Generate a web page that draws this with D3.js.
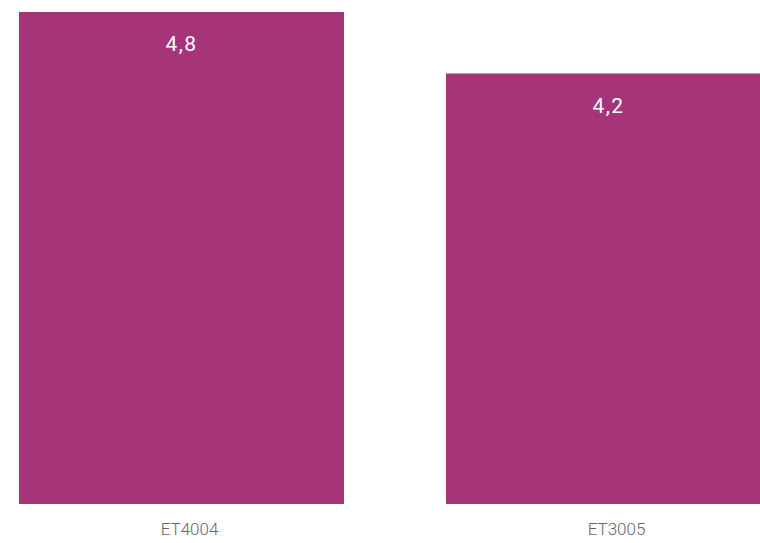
<!DOCTYPE html>
<html>
<head>
<meta charset="utf-8">
<script src="https://cdn.jsdelivr.net/npm/d3@7"></script>
<style>
  html, body { margin: 0; padding: 0; background: #fff; }
  svg { display: block; }
</style>
</head>
<body>
<svg id="chart" width="760" height="543"></svg>
<script>
const categories = ["ET4004", "ET3005"];
const values = [4.8, 4.2];
const valueLabels = ["4,8", "4,2"];

const svg = d3.select("#chart");
const baseY = 504;
const topY = 12;

const x = d3.scaleBand()
  .domain(categories)
  .range([19, 771])
  .paddingInner(102 / 427)
  .paddingOuter(0);

const y = d3.scaleLinear()
  .domain([0, 4.8])
  .range([baseY, topY]);

const color = "#a63479";

svg.selectAll("rect.bar")
  .data(categories)
  .join("rect")
  .attr("class", "bar")
  .attr("x", d => x(d))
  .attr("width", x.bandwidth())
  .attr("y", (d, i) => y(values[i]))
  .attr("height", (d, i) => baseY - y(values[i]))
  .attr("fill", color);

svg.selectAll("text.val")
  .data(categories)
  .join("text")
  .attr("class", "val")
  .attr("x", d => x(d) + x.bandwidth() / 2)
  .attr("y", (d, i) => y(values[i]) + 39)
  .attr("text-anchor", "middle")
  .attr("fill", "#ffffff")
  .style("font-family", "Roboto, 'DejaVu Sans', sans-serif")
  .style("font-size", "21px")
  .style("font-weight", "400")
  .style("letter-spacing", "1.5px")
  .text((d, i) => valueLabels[i]);

svg.selectAll("text.cat")
  .data(categories)
  .join("text")
  .attr("class", "cat")
  .attr("x", d => x(d) + x.bandwidth() / 2 + 8)
  .attr("y", 535)
  .attr("text-anchor", "middle")
  .attr("fill", "#666666")
  .style("font-family", "Roboto, 'DejaVu Sans', sans-serif")
  .style("font-size", "17px")
  .style("font-weight", "300")
  .text(d => d);
</script>
</body>
</html>
